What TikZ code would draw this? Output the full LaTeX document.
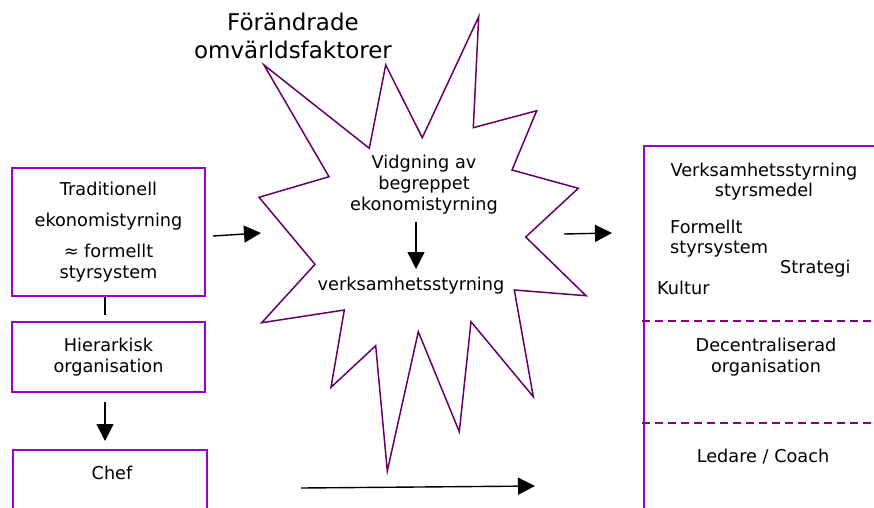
\documentclass[tikz,border=0pt]{standalone}
\usepackage{fontspec}
\setmainfont{DejaVu Sans}
\usetikzlibrary{arrows.meta}
\definecolor{boxvio}{HTML}{9900CC}
\definecolor{starvio}{HTML}{660066}
\definecolor{dashvio}{HTML}{800080}
\begin{document}
\begin{tikzpicture}[x=1pt,y=-1pt,
  txt/.style={font=\fontsize{17.7}{21}\selectfont, align=center, inner sep=0pt},
  vbox/.style={draw=boxvio, line width=1.6pt, inner sep=0pt},
  arr/.style={-{Triangle[length=17pt,width=17pt]}, line width=1.4pt},
  sep/.style={draw=dashvio, line width=1.3pt, dash pattern=on 8pt off 5pt},
]
\useasboundingbox (0,0) rectangle (874,507);
\clip (0,0) rectangle (874,507);

% left column
\node[vbox, txt, minimum width=193pt, minimum height=128pt] (trad) at (108.5,232)
  {Traditionell\\[10pt]ekonomistyrning\\[10pt]≈ formellt\\styrsystem};
\node[vbox, txt, minimum width=193pt, minimum height=70pt] (hier) at (108.5,357)
  {Hierarkisk\\organisation};
\node[vbox, minimum width=194pt, minimum height=80pt] (chef) at (110,490) {};
\node[txt] (cheft) at (112,473) {Chef};

\coordinate (c1) at (105,315);
\draw[line width=1.2pt] (trad.south -| c1) -- (c1);
\coordinate (a1) at (105,402);
\coordinate (a2) at (105,441);
\draw[arr] (a1) -- (a2);

% starburst
\draw[starvio, line width=1.5pt, line join=miter]
  (264,65) -- (369.3,148.3) -- (385.7,65) -- (422.3,137.7) -- (478.7,16.7)
  -- (473.3,127.7) -- (536.7,110.7) -- (512,170) -- (578.3,188.3)
  -- (525.7,237) -- (586,295.7) -- (514.3,290) -- (533.3,396.7)
  -- (471,321.7) -- (459.3,431.7) -- (418.3,331.7) -- (387.3,471)
  -- (375.7,345.7) -- (331,387.3) -- (344.3,310) -- (261.7,322.7)
  -- (315,264.3) -- (259,197.3) -- (329,176.7) -- cycle;

\node[txt, font=\fontsize{23}{28}\selectfont] (title) at (293,36)
  {Förändrade\\omvärldsfaktorer};
\node[txt] (vid) at (424,185) {Vidgning av\\begreppet\\ekonomistyrning};
\node[txt] (verk) at (411,286) {verksamhetsstyrning};
\coordinate (b1) at (416,222);
\coordinate (b2) at (416,269);
\draw[arr] (b1) -- (b2);

% arrows between parts
\coordinate (d1) at (213,236);
\coordinate (d2) at (261,233);
\draw[arr] (d1) -- (d2);
\coordinate (e1) at (564,234);
\coordinate (e2) at (612,233);
\draw[arr] (e1) -- (e2);
\coordinate (f1) at (301,488);
\coordinate (f2) at (535,486);
\draw[arr] (f1) -- (f2);

% right box
\node[vbox, minimum width=260pt, minimum height=400pt] (rbox) at (774,346) {};
\coordinate (s1l) at (642,321);
\coordinate (s1r) at (880,321);
\coordinate (s2l) at (642,423);
\coordinate (s2r) at (880,423);
\draw[sep] (s1l) -- (s1r);
\draw[sep] (s2l) -- (s2r);

\node[txt, font=\fontsize{17.7}{20}\selectfont] (vs) at (764,182) {Verksamhetsstyrning\\styrsmedel};
\node[txt, font=\fontsize{17.7}{20}\selectfont, align=left, anchor=west] (form) at (670,238.5) {Formellt\\styrsystem};
\node[txt, anchor=west] (strat) at (780,269) {Strategi};
\node[txt, anchor=west] (kult) at (657,288) {Kultur};
\node[txt] (dec) at (766,357) {Decentraliserad\\organisation};
\node[txt] (led) at (763,457) {Ledare / Coach};
\end{tikzpicture}
\end{document}
